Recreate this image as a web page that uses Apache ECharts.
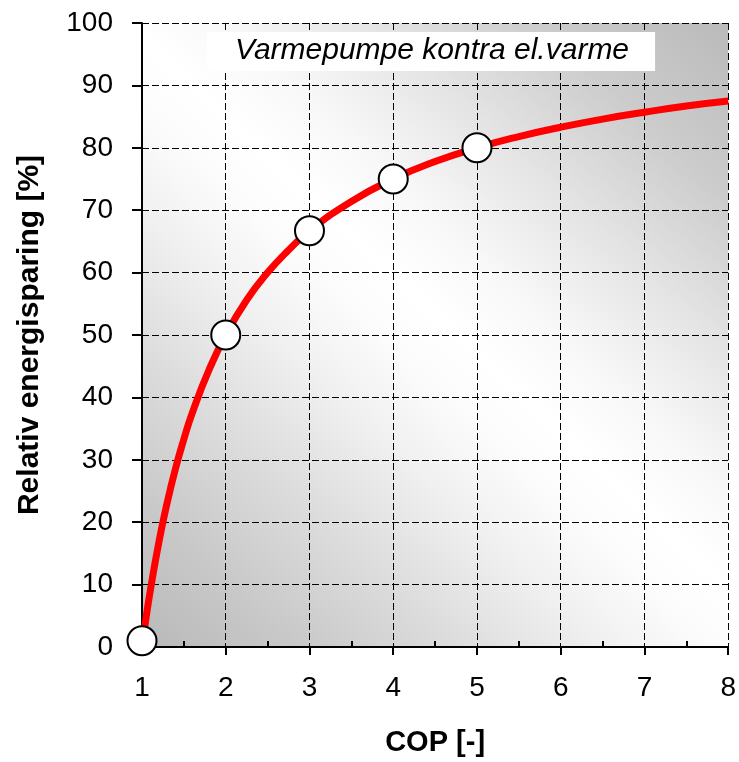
<!DOCTYPE html>
<html>
<head>
<meta charset="utf-8">
<script src="https://cdn.jsdelivr.net/npm/echarts@6/dist/echarts.min.js"></script>
<style>
html,body{margin:0;padding:0;background:#fff;}
#chart{width:739px;height:762px;}
</style>
</head>
<body>
<div id="chart"></div>
<script>
// Curve: COP vs relative energy saving (%)
const curveCOP = [1, 1.05, 1.1, 1.2, 1.3, 1.4, 1.5, 1.6, 1.8, 2, 2.25, 2.5, 2.75, 3, 3.5, 4, 4.5, 5, 5.5, 6, 6.5, 7, 7.5, 8];
const curveSaving = [0, 4.8, 9.1, 16.7, 23.1, 28.6, 33.3, 37.5, 44.4, 50, 55.6, 60, 63.6, 66.7, 71.4, 75, 77.8, 80, 81.8, 83.3, 84.6, 85.7, 86.7, 87.5];
// Marked points
const pointCOP = [1, 2, 3, 4, 5];
const pointSaving = [1, 50, 66.7, 75, 80];
// Texts
const chartTitle = 'Varmepumpe kontra el.varme';
const xName = 'COP [-]';
const yName = 'Relativ energisparing [%]';

const font = '"Liberation Sans", Arial, sans-serif';
const chart = echarts.init(document.getElementById('chart'), null, {renderer: 'canvas'});

chart.setOption({
  animation: false,
  backgroundColor: '#ffffff',
  title: {
    text: chartTitle,
    left: 207,
    top: 32,
    padding: [4, 26, 5, 28],
    backgroundColor: '#ffffff',
    textStyle: {fontFamily: font, fontSize: 30, fontStyle: 'italic', fontWeight: 'normal', color: '#000'}
  },
  grid: {
    left: 142, right: 9, top: 23, bottom: 113,
    show: true,
    borderWidth: 0,
    backgroundColor: {
      type: 'linear', x: 0, y: 1, x2: 1, y2: 0,
      colorStops: [
        {offset: 0, color: '#b9b9b9'},
        {offset: 0.12, color: '#c8c8c8'},
        {offset: 0.25, color: '#dcdcdc'},
        {offset: 0.37, color: '#f0f0f0'},
        {offset: 0.46, color: '#fcfcfc'},
        {offset: 0.52, color: '#ffffff'},
        {offset: 0.6, color: '#f8f8f8'},
        {offset: 0.72, color: '#e4e4e4'},
        {offset: 0.85, color: '#cccccc'},
        {offset: 1, color: '#bababa'}
      ]
    },
    z: 0
  },
  xAxis: [{
    type: 'value', min: 1, max: 8, interval: 1,
    name: xName, nameLocation: 'middle', nameGap: 81,
    nameTextStyle: {fontFamily: font, fontSize: 29, fontWeight: 'bold', color: '#000'},
    axisLine: {show: true, onZero: false, lineStyle: {color: '#000', width: 2}},
    axisTick: {show: true, length: 8, lineStyle: {color: '#000', width: 2}},
    axisLabel: {fontFamily: font, fontSize: 28, color: '#000', margin: 27},
    splitLine: {show: true, lineStyle: {color: '#000', width: 1, type: [7, 3]}}
  }, {
    type: 'value', min: 1, max: 8, interval: 1, position: 'bottom',
    axisLine: {show: false},
    axisTick: {show: false, inside: true},
    minorTick: {show: true, splitNumber: 2, length: 6, lineStyle: {color: '#000', width: 2}},
    axisLabel: {show: false},
    splitLine: {show: false}
  }],
  yAxis: {
    type: 'value', min: 0, max: 100, interval: 10,
    name: yName, nameLocation: 'middle', nameGap: 97,
    nameTextStyle: {fontFamily: font, fontSize: 30, fontWeight: 'bold', color: '#000'},
    axisLine: {show: true, onZero: false, lineStyle: {color: '#000', width: 2}},
    axisTick: {show: true, length: 10, lineStyle: {color: '#000', width: 2}},
    axisLabel: {fontFamily: font, fontSize: 28, color: '#000', margin: 29},
    splitLine: {show: true, lineStyle: {color: '#000', width: 1, type: [7, 3]}}
  },
  series: [{
    type: 'line',
    data: curveCOP.map((c, i) => [c, curveSaving[i]]),
    smooth: true,
    showSymbol: false,
    lineStyle: {color: '#ff0000', width: 7},
    clip: false,
    z: 3
  }, {
    type: 'scatter',
    data: pointCOP.map((c, i) => [c, pointSaving[i]]),
    symbol: 'circle',
    symbolSize: 29,
    itemStyle: {color: '#ffffff', borderColor: '#000', borderWidth: 2, opacity: 1},
    clip: false,
    z: 4
  }]
});
</script>
</body>
</html>
